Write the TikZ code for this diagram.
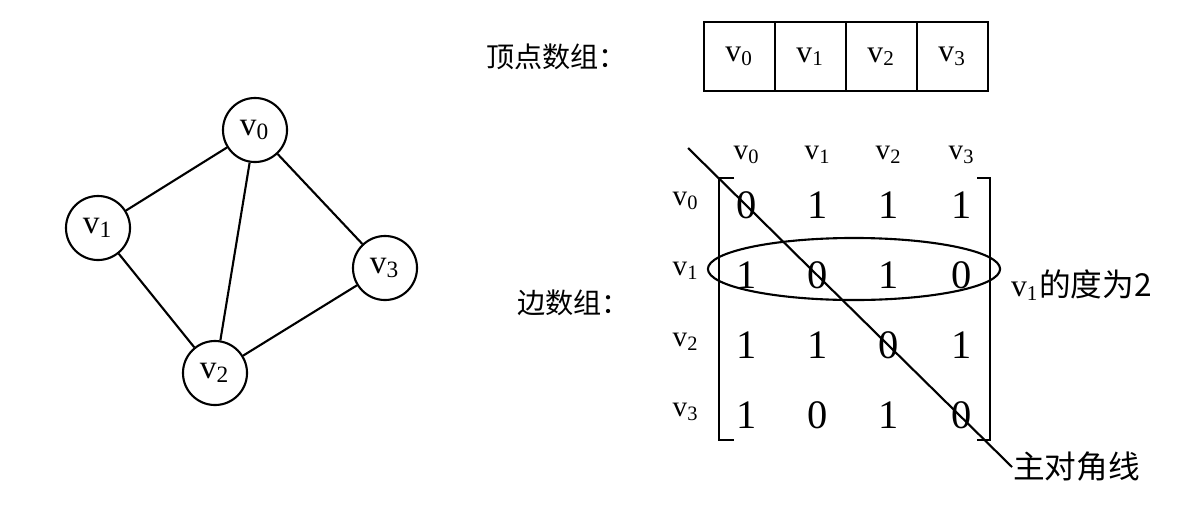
\documentclass[tikz,border=0pt]{standalone}
\usepackage{fontspec}
\setmainfont{Liberation Serif}
\newfontfamily\cjk{Noto Sans CJK SC}
\newcommand{\vx}[1]{v\textsubscript{#1}}

\begin{document}
\begin{tikzpicture}[x=.01cm,y=-.01cm,line width=.6pt,
 vtx/.style={draw,circle,minimum size=.64cm,inner sep=0pt,font=\fontsize{9.5}{10}\selectfont},
 cell/.style={draw,minimum width=.71cm,minimum height=.69cm,inner sep=0pt,font=\fontsize{9}{10}\selectfont},
 hd/.style={font=\fontsize{8.3}{9}\selectfont},
 ent/.style={font=\fontsize{11.5}{12}\selectfont},
 lbl/.style={anchor=west,inner sep=0pt,font=\cjk\fontsize{8}{9}\selectfont},
 note/.style={anchor=west,inner sep=0pt,font=\fontsize{9}{10}\selectfont}]
\useasboundingbox (0,0) rectangle (1200,509);
% Graph with four vertices.
\node[vtx] (v0) at (255,130) {\vx0};
\node[vtx] (v1) at (98,228) {\vx1};
\node[vtx] (v3) at (385,268) {\vx3};
\node[vtx] (v2) at (215,373) {\vx2};
\draw (v0) -- (v1);
\draw (v0) -- (v2);
\draw (v0) -- (v3);
\draw (v1) -- (v2);
\draw (v2) -- (v3);
% Vertex array.
\node[lbl] (vlbl) at (485,57) {顶点数组：};
\node[cell] (c0) at (739.5,56.5) {\vx0};
\node[cell] (c1) at (810.5,56.5) {\vx1};
\node[cell] (c2) at (881.5,56.5) {\vx2};
\node[cell] (c3) at (952.5,56.5) {\vx3};
% Edge array: headers, rows and entries.
\node[lbl] (elbl) at (516,303) {边数组：};
\node[hd] (h0) at (747,155) {\vx0};
\node[hd] (h1) at (818,155) {\vx1};
\node[hd] (h2) at (889,155) {\vx2};
\node[hd] (h3) at (962,155) {\vx3};
\node[hd] (r0) at (686,201) {\vx0};
\node[hd] (r1) at (686,271) {\vx1};
\node[hd] (r2) at (686,342) {\vx2};
\node[hd] (r3) at (686,412) {\vx3};
\node[ent] (m00) at (747,205) {0};
\node[ent] (m01) at (818,205) {1};
\node[ent] (m02) at (889,205) {1};
\node[ent] (m03) at (962,205) {1};
\node[ent] (m10) at (747,275) {1};
\node[ent] (m11) at (818,275) {0};
\node[ent] (m12) at (889,275) {1};
\node[ent] (m13) at (962,275) {0};
\node[ent] (m20) at (747,345) {1};
\node[ent] (m21) at (818,345) {1};
\node[ent] (m22) at (889,345) {0};
\node[ent] (m23) at (962,345) {1};
\node[ent] (m30) at (747,415) {1};
\node[ent] (m31) at (818,415) {0};
\node[ent] (m32) at (889,415) {1};
\node[ent] (m33) at (962,415) {0};
\draw (734,178) -- (719,178) -- (719,440) -- (734,440);
\draw (977,178) -- (990,178) -- (990,440) -- (977,440);
% Row of v1 circled, and the main diagonal.
\draw (854,269) ellipse [x radius=1.46cm,y radius=.31cm];
\node[note] (deg) at (1010,285) {\vx1{\cjk 的度为2}};
\node[note,font=\cjk\fontsize{9}{10}\selectfont] (diag) at (1012,467) {主对角线};
\coordinate (dg0) at (688,148);
\draw (dg0) -- (diag.west);
\end{tikzpicture}
\end{document}
